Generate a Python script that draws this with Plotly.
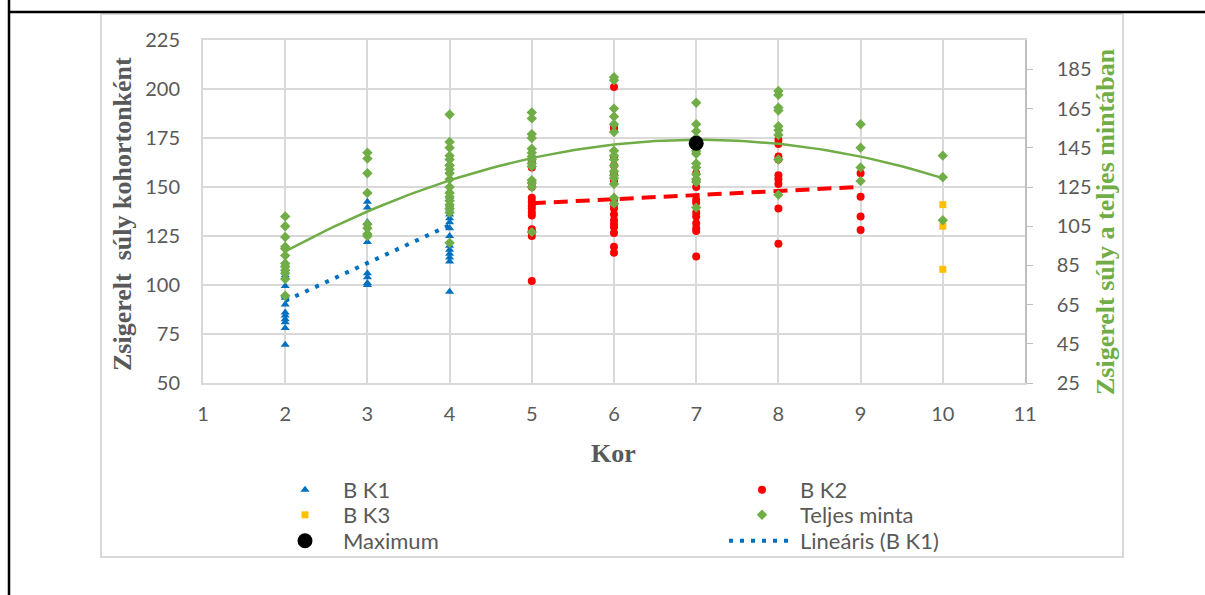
import numpy as np
import plotly.graph_objects as go

# ---------------- data ----------------
ages_ticks = [1, 2, 3, 4, 5, 6, 7, 8, 9, 10, 11]
left_ticks = [50, 75, 100, 125, 150, 175, 200, 225]
right_ticks = [25, 45, 65, 85, 105, 125, 145, 165, 185]

# B K1 (ages 2-4)
k1_age2 = [110, 105, 99.5, 94.5, 93.5, 90, 86, 84.5, 82.5, 81, 78, 69.5]
k1_age3 = [142.5, 139.5, 132, 122, 106, 104, 101, 100]
k1_age4 = [162, 148, 145, 141, 139, 136, 134, 132, 129, 125, 122, 120, 118, 116, 114, 112, 96.5]

# B K2 (ages 5-9)
k2_age5 = [163, 160, 152, 150, 144.5, 142.5, 140.5, 139, 137, 135.5, 128.5, 127, 125, 102]
k2_age6 = [201, 181, 179.5, 165, 161, 157, 153, 143.5, 141, 139, 136, 133, 131, 129.5, 126.5, 119.5, 116.5]
k2_age7 = [168, 157, 153.5, 150, 143.5, 142, 137, 135, 131.5, 129, 127.5, 114.5]
k2_age8 = [174, 172, 165.5, 164, 156, 154, 151.5, 139, 121]
k2_age9 = [157, 145, 135, 128]

# B K3 (age 10)
k3_age10 = [141, 130, 108]

# Maximum point (secondary axis)
max_age = [7]
max_value = [147.3]

# ---------------- build series ----------------
def flatten(groups):
    xs, ys = [], []
    for age, vals in groups:
        xs += [age] * len(vals)
        ys += list(vals)
    return np.array(xs, float), np.array(ys, float)

k1_x, k1_y = flatten([(2, k1_age2), (3, k1_age3), (4, k1_age4)])
k2_x, k2_y = flatten([(5, k2_age5), (6, k2_age6), (7, k2_age7), (8, k2_age8), (9, k2_age9)])
k3_x, k3_y = flatten([(10, k3_age10)])

all_x = np.concatenate([k1_x, k2_x, k3_x])
all_y = np.concatenate([k1_y, k2_y, k3_y])

Y2_MIN, Y2_MAX = 25, 200
vis = all_y <= Y2_MAX

# trendlines
b1 = np.polyfit(k1_x, k1_y, 1)
t1_x = np.array([k1_x.min(), k1_x.max()])
b2 = np.polyfit(k2_x, k2_y, 1)
t2_x = np.array([k2_x.min(), k2_x.max()])
bp = np.polyfit(all_x, all_y, 2)
tp_x = np.linspace(all_x.min(), all_x.max(), 81)

BLUE, RED, YEL, GREEN = "#0070C0", "#FF0000", "#FFC000", "#70AD47"
GRAY = "#595959"
FONT = "Lato, 'Noto Sans', sans-serif"
SERIF = "'Liberation Serif', 'DejaVu Serif', serif"

fig = go.Figure()
fig.add_trace(go.Scatter(x=k1_x, y=k1_y, mode="markers", name="B K1", legend="legend",
                         marker=dict(symbol="triangle-up", size=8, color=BLUE)))
fig.add_trace(go.Scatter(x=k2_x, y=k2_y, mode="markers", name="B K2", legend="legend2",
                         marker=dict(symbol="circle", size=8, color=RED)))
fig.add_trace(go.Scatter(x=k3_x, y=k3_y, mode="markers", name="B K3", legend="legend3",
                         marker=dict(symbol="square", size=7, color=YEL)))
fig.add_trace(go.Scatter(x=t1_x, y=np.polyval(b1, t1_x), mode="lines", name="Lineáris (B K1)",
                         legend="legend6", line=dict(color=BLUE, width=4, dash="4px,7px")))
fig.add_trace(go.Scatter(x=t2_x, y=np.polyval(b2, t2_x), mode="lines", showlegend=False,
                         line=dict(color=RED, width=4, dash="14px,8px")))
fig.add_trace(go.Scatter(x=all_x[vis], y=all_y[vis], mode="markers", name="Teljes minta",
                         legend="legend4", yaxis="y2",
                         marker=dict(symbol="diamond", size=8, color=GREEN)))
fig.add_trace(go.Scatter(x=tp_x, y=np.polyval(bp, tp_x), mode="lines", showlegend=False,
                         yaxis="y2", line=dict(color=GREEN, width=2.5)))
fig.add_trace(go.Scatter(x=max_age, y=max_value, mode="markers", name="Maximum", legend="legend5",
                         yaxis="y2", marker=dict(symbol="circle", size=15, color="black")))

# ---------------- layout ----------------
W, H = 1205, 595
PL, PR, PT, PB = 203, 1025, 40, 383
pw, ph = PR - PL, PB - PT

def px(x):
    return (x - PL) / pw

def py(y):
    return (PB - y) / ph

GRID = "#d9d9d9"
fig.update_layout(
    width=W, height=H,
    margin=dict(l=PL, r=W - PR, t=PT, b=H - PB, autoexpand=False),
    paper_bgcolor="white", plot_bgcolor="white",
    font=dict(family=FONT, color=GRAY, size=19),
    xaxis=dict(range=[1, 11], tickvals=ages_ticks, showgrid=True, gridcolor=GRID, gridwidth=2,
               zeroline=False, showline=True, mirror=True, linecolor=GRID, linewidth=2,
               ticks="", ticklabelstandoff=12, tickfont=dict(size=20, color=GRAY)),
    yaxis=dict(range=[50, 225], tickvals=left_ticks, showgrid=True, gridcolor=GRID, gridwidth=2,
               zeroline=False, showline=True, linecolor=GRID, linewidth=2,
               ticks="", ticklabelstandoff=17, tickfont=dict(size=20, color=GRAY)),
    yaxis2=dict(range=[Y2_MIN, Y2_MAX], tickvals=right_ticks, overlaying="y", side="right",
                showgrid=False, zeroline=False, showline=True, linecolor="#bfbfbf", linewidth=1.5,
                ticks="outside", ticklen=6, tickcolor="#bfbfbf", ticklabelstandoff=20,
                tickfont=dict(size=20, color=GRAY)),
    showlegend=True,
)

# legend placement: two columns x three rows
COL_X = [267, 724]
ROW_Y = [490, 515, 541]
legend_slots = {
    "legend": (0, 0), "legend2": (1, 0),
    "legend3": (0, 1), "legend4": (1, 1),
    "legend5": (0, 2), "legend6": (1, 2),
}
for key, (c, r) in legend_slots.items():
    fig.update_layout({key: dict(x=px(COL_X[c]), xanchor="left", y=py(ROW_Y[r]), yanchor="middle",
                                 itemwidth=66, font=dict(size=22, color=GRAY, family=FONT),
                                 bgcolor="rgba(0,0,0,0)", borderwidth=0)})

shapes = [
    dict(type="rect", xref="paper", yref="paper", x0=px(101), x1=px(1123), y0=py(557), y1=py(14),
         line=dict(color=GRID, width=2), fillcolor="rgba(0,0,0,0)", layer="below"),
    dict(type="line", xref="paper", yref="paper", x0=px(9), x1=px(9), y0=py(0), y1=py(595),
         line=dict(color="black", width=2.5)),
    dict(type="line", xref="paper", yref="paper", x0=px(9), x1=px(1205), y0=py(12), y1=py(12),
         line=dict(color="black", width=2.5)),
]
fig.update_layout(shapes=shapes)

annotations = [
    dict(text="<b>Zsigerelt\u00a0 súly kohortonként</b>", xref="paper", yref="paper",
         x=px(122), y=py(214), textangle=-90, showarrow=False, xanchor="center", yanchor="middle",
         font=dict(family=SERIF, size=26, color=GRAY)),
    dict(text="<b>Zsigerelt súly a teljes mintában</b>", xref="paper", yref="paper",
         x=px(1106), y=py(222), textangle=-90, showarrow=False, xanchor="center", yanchor="middle",
         font=dict(family=SERIF, size=26, color=GREEN)),
    dict(text="<b>Kor</b>", xref="paper", yref="paper", x=px(613), y=py(453), showarrow=False,
         xanchor="center", yanchor="middle", font=dict(family=SERIF, size=26, color=GRAY)),
]
fig.update_layout(annotations=annotations)

fig.write_html("out.html")
